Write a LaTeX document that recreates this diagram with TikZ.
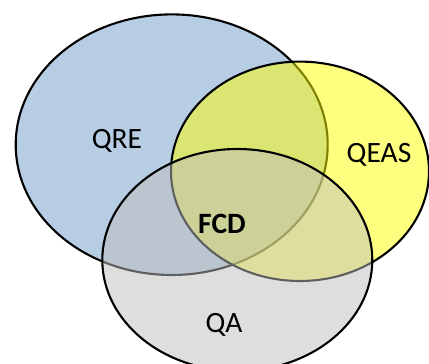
\documentclass[tikz,border=0pt]{standalone}
\usepackage{fontspec}
\setmainfont{Carlito}
\usepackage{tikz}
\usetikzlibrary{shapes,positioning}

\definecolor{qreblue}{RGB}{182,205,228}
\definecolor{qeasyellow}{RGB}{255,255,0}
\definecolor{qagray}{RGB}{190,190,190}

\begin{document}
\begin{tikzpicture}[x=1pt, y=-1pt, set/.style={draw=black, line width=2.1pt}, lbl/.style={font=\fontsize{29.5}{34}\selectfont, inner sep=0pt}]
\useasboundingbox (0,0) rectangle (429,364);
\draw [set, fill=qreblue] (171.7,144.7) ellipse [x radius=156pt, y radius=130.3pt];
\draw [set, fill=qeasyellow, fill opacity=0.5] (300,171.3) ellipse [x radius=129pt, y radius=109.7pt];
\draw [set, fill=qagray, fill opacity=0.5] (237.3,260) ellipse [x radius=135pt, y radius=111pt];

\node [lbl] (qre) at (117,140.5) {QRE};
\node [lbl] (qeas) at (379,154.7) {QEAS};
\node [lbl] (qa) at (224,325) {QA};
\node [lbl, font=\fontsize{29.5}{34}\selectfont\bfseries] (fcd) at (222,223.7) {FCD};
\end{tikzpicture}
\end{document}
